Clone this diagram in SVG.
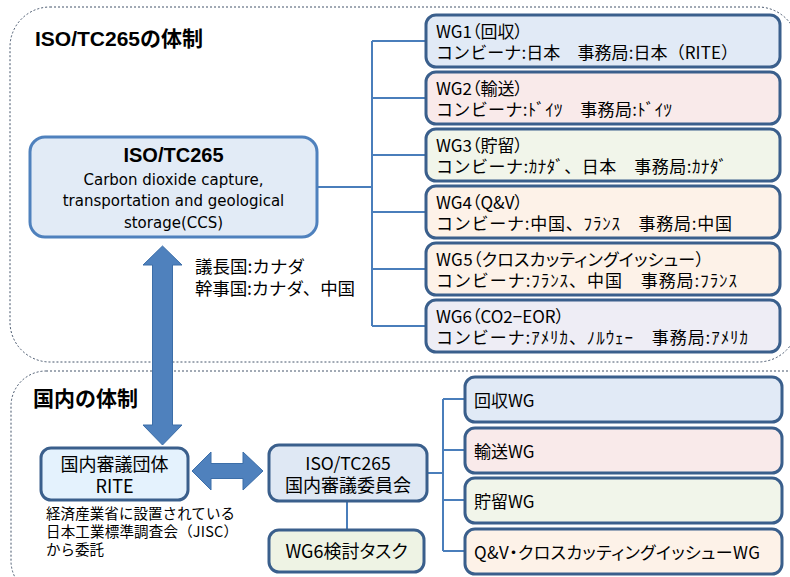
<svg xmlns="http://www.w3.org/2000/svg" width="790" height="577" viewBox="0 0 790 577">
<defs>
<style>
.region{fill:none;stroke:#44546a;stroke-width:1;stroke-dasharray:2 2}
.title{font-family:"Liberation Sans","Noto Sans CJK JP",sans-serif;font-weight:bold;font-size:21px;fill:#000}
.jp{font-family:"Noto Sans CJK JP",sans-serif;fill:#000;font-feature-settings:"palt"}
.wgt{font-size:17px}
.np{font-feature-settings:normal}
.wg{stroke:#3a5f8c;stroke-width:3}
.conn{fill:none;stroke:#4a7ebb;stroke-width:2}
.big{fill:#4f81bd;stroke:#3c6ea8;stroke-width:1}
.en{font-family:"DejaVu Sans",sans-serif;font-size:15px;fill:#000}
.ctr{text-anchor:middle}
</style>
</defs>
<rect width="790" height="577" fill="#fff"/>
<g id="regions">
<rect class="region" x="10" y="7" width="788" height="355" rx="40" ry="40"/>
<rect class="region" x="11" y="371" width="812" height="225" rx="35" ry="35"/>
<text class="title" x="35" y="46">ISO/TC265の体制</text>
<text class="title" x="33" y="406">国内の体制</text>
</g>
<g id="connectors">
<path class="conn" d="M317 187H372M372 41V326M372 41H426M372 98H426M372 155H426M372 212H426M372 269H426M372 326H426"/>
<path class="conn" d="M427 473H443M443 399V551M443 399H465M443 450H465M443 500H465M443 551H465"/>
<path class="conn" d="M347 501V530" stroke-width="1.5"/>
<path class="big" d="M162.5 246L182 265H172.5V425H182L162.5 445L143 425H152.5V265H143Z"/>
<path class="big" d="M192 471L211 452V463.5H243V452L263 471L243 490V478.5H211V490Z"/>
</g>
<g id="iso">
<rect x="30" y="137" width="287" height="100" rx="15" fill="#e2ebf6" stroke="#4f81bd" stroke-width="3"/>
<text class="ctr" x="173.5" y="162" font-family="Liberation Sans,Noto Sans CJK JP,sans-serif" font-weight="bold" font-size="20" fill="#000">ISO/TC265</text>
<text class="en ctr" x="173.5" y="185">Carbon dioxide capture,</text>
<text class="en ctr" x="173.5" y="206">transportation and geological</text>
<text class="en ctr" x="173.5" y="228">storage(CCS)</text>
</g>
<g id="chair">
<text x="195" y="273" font-family="Noto Sans CJK JP,sans-serif" font-size="17.5" fill="#000" textLength="110" lengthAdjust="spacing">議長国:カナダ</text>
<text x="195" y="295" font-family="Noto Sans CJK JP,sans-serif" font-size="17.5" fill="#000" textLength="160" lengthAdjust="spacing">幹事国:カナダ、中国</text>
</g>
<g id="wg1">
<rect class="wg" x="426" y="15" width="354" height="52" rx="10" fill="#e1eaf6"/>
<text class="jp wgt" x="436" y="38">WG1（回収）</text>
<text class="jp wgt np" x="436" y="59" textLength="302" lengthAdjust="spacing">コンビーナ:日本　事務局:日本（RITE）</text>
</g>
<g id="wg2">
<rect class="wg" x="426" y="72" width="354" height="52" rx="10" fill="#f9eaea"/>
<text class="jp wgt" x="436" y="95">WG2（輸送）</text>
<text class="jp wgt np" x="436" y="116" textLength="236" lengthAdjust="spacing">コンビーナ:ﾄﾞｲﾂ　事務局:ﾄﾞｲﾂ</text>
</g>
<g id="wg3">
<rect class="wg" x="426" y="129" width="354" height="52" rx="10" fill="#f1f5ea"/>
<text class="jp wgt" x="436" y="152">WG3（貯留）</text>
<text class="jp wgt np" x="436" y="173" textLength="291" lengthAdjust="spacing">コンビーナ:ｶﾅﾀﾞ、日本　事務局:ｶﾅﾀﾞ</text>
</g>
<g id="wg4">
<rect class="wg" x="426" y="186" width="354" height="52" rx="10" fill="#fdf2e8"/>
<text class="jp wgt" x="436" y="209">WG4（Q&amp;V）</text>
<text class="jp wgt np" x="436" y="230" textLength="296" lengthAdjust="spacing">コンビーナ:中国、ﾌﾗﾝｽ　事務局:中国</text>
</g>
<g id="wg5">
<rect class="wg" x="426" y="243" width="354" height="52" rx="10" fill="#fdf2e8"/>
<text class="jp wgt" x="436" y="266" textLength="268" lengthAdjust="spacing">WG5（クロスカッティングイッシュー）</text>
<text class="jp wgt np" x="436" y="287" textLength="301" lengthAdjust="spacing">コンビーナ:ﾌﾗﾝｽ、中国　事務局:ﾌﾗﾝｽ</text>
</g>
<g id="wg6">
<rect class="wg" x="426" y="300" width="354" height="52" rx="10" fill="#eeedf5"/>
<text class="jp wgt" x="436" y="323">WG6（CO2−EOR）</text>
<text class="jp wgt np" x="436" y="344" textLength="312" lengthAdjust="spacing">コンビーナ:ｱﾒﾘｶ、ﾉﾙｳｪｰ　事務局:ｱﾒﾘｶ</text>
</g>
<g id="rite">
<rect class="wg" x="41" y="448" width="147" height="52" rx="10" fill="#e4f2fd"/>
<text class="jp ctr" x="114.5" y="471" font-size="18">国内審議団体</text>
<text class="jp ctr" x="114.5" y="493" font-size="18">RITE</text>
</g>
<g id="note">
<text x="46" y="519" font-family="Noto Sans CJK JP,sans-serif" font-size="14.5" fill="#000" textLength="189" lengthAdjust="spacing">経済産業省に設置されている</text>
<text x="46" y="537" font-family="Noto Sans CJK JP,sans-serif" font-size="14.5" fill="#000" textLength="192" lengthAdjust="spacing">日本工業標準調査会（JISC）</text>
<text x="46" y="555" font-family="Noto Sans CJK JP,sans-serif" font-size="14.5" fill="#000">から委託</text>
</g>
<g id="committee">
<rect class="wg" x="269" y="445" width="158" height="56" rx="10" fill="#dfe8f4"/>
<text class="jp ctr" x="348" y="470" font-size="17.5">ISO/TC265</text>
<text class="jp ctr" x="348" y="492" font-size="18">国内審議委員会</text>
</g>
<g id="wg6task">
<rect class="wg" x="269" y="530" width="155" height="42" rx="10" fill="#eef3e4"/>
<text class="jp ctr" x="346.5" y="558" font-size="18">WG6検討タスク</text>
</g>
<g id="jp-capture">
<rect class="wg" x="465" y="377" width="317" height="45" rx="10" fill="#e1eaf6"/>
<text class="jp wgt" x="474" y="407">回収WG</text>
</g>
<g id="jp-transport">
<rect class="wg" x="465" y="428" width="317" height="45" rx="10" fill="#f9eaea"/>
<text class="jp wgt" x="474" y="458">輸送WG</text>
</g>
<g id="jp-storage">
<rect class="wg" x="465" y="478" width="317" height="45" rx="10" fill="#f1f5ea"/>
<text class="jp wgt" x="474" y="508">貯留WG</text>
</g>
<g id="jp-qv">
<rect class="wg" x="465" y="529" width="317" height="45" rx="10" fill="#fdf2e8"/>
<text class="jp wgt" x="474" y="559" textLength="286" lengthAdjust="spacing">Q&amp;V・クロスカッティングイッシューWG</text>
</g>
</svg>
